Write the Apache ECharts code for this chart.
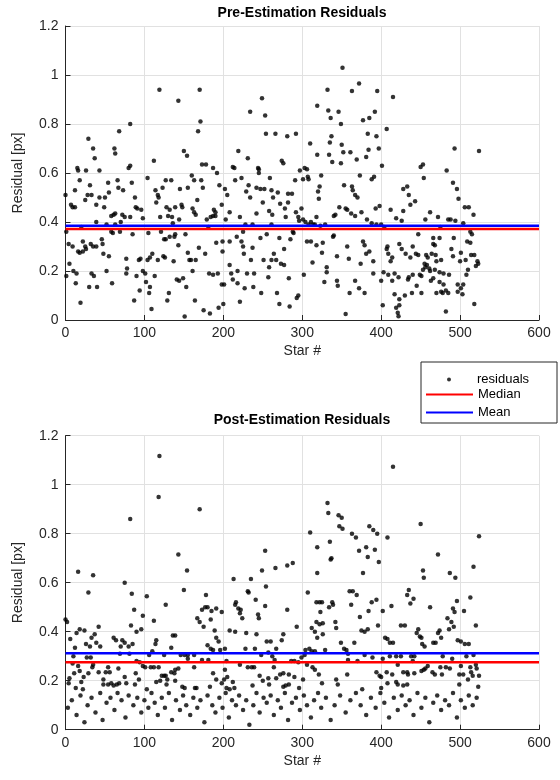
<!DOCTYPE html>
<html>
<head>
    <meta charset="utf-8">
    <title>Residuals</title>
    <script src="https://cdn.jsdelivr.net/npm/echarts@6/dist/echarts.min.js"></script>
    <style>
        body{ margin: 0; background: #fff; }
        #chart{ width: 560px; height: 780px; }
    </style>
</head>
<body>
<div id="chart"></div>
<script>
    // [star #, residual px]
    var preResiduals = [
        [0,0.51],[82,0.80],[68,0.77],[29,0.74],[35,0.70],[37,0.66],[62,0.70],[63,0.68],[15,0.62],[16,0.61],[26,0.61],[43,0.61],[80,0.62],[82,0.63],[18,0.57],[12,0.53],[31,0.55],[54,0.56],[66,0.57],[84,0.56],[67,0.54],[73,0.53],[28,0.51],[33,0.51],[25,0.49],[55,0.52],[50,0.50],[43,0.50],[39,0.47],[7,0.47],[9,0.46],[12,0.46],[49,0.46],[88,0.50],[89,0.46],[91,0.455],[96,0.45],[98,0.415],[58,0.425],[61,0.43],[63,0.435],[72,0.43],[75,0.42],[82,0.42],[70,0.40],[52,0.39],[63,0.39],[20,0.38],[1,0.36],[58,0.36],[60,0.355],[69,0.36],[85,0.35],[4,0.31],[9,0.30],[16,0.28],[18,0.275],[22,0.28],[25,0.30],[26,0.29],[32,0.31],[35,0.30],[39,0.30],[46,0.33],[47,0.31],[48,0.27],[55,0.26],[22,0.32],[5,0.23],[10,0.20],[14,0.19],[1,0.18],[13,0.15],[30,0.135],[40,0.135],[33,0.19],[36,0.18],[52,0.20],[59,0.15],[77,0.25],[77,0.19],[78,0.21],[93,0.245],[95,0.25],[98,0.20],[94,0.12],[87,0.08],[19,0.07],[90,0.18],[39,0.40],
        [119,0.94],[143,0.895],[170,0.94],[171,0.81],[168,0.77],[150,0.69],[154,0.67],[112,0.65],[104,0.58],[173,0.635],[178,0.635],[187,0.62],[192,0.60],[127,0.57],[134,0.57],[160,0.59],[163,0.57],[172,0.57],[174,0.54],[145,0.535],[155,0.54],[114,0.53],[123,0.54],[117,0.51],[118,0.50],[167,0.49],[195,0.55],[202,0.535],[205,0.51],[115,0.48],[147,0.47],[148,0.46],[128,0.46],[132,0.45],[139,0.46],[161,0.455],[163,0.44],[165,0.43],[188,0.45],[190,0.44],[198,0.47],[130,0.425],[135,0.42],[120,0.42],[144,0.41],[179,0.41],[184,0.42],[187,0.425],[190,0.425],[203,0.41],[136,0.395],[181,0.38],[105,0.355],[121,0.36],[125,0.33],[127,0.33],[132,0.34],[138,0.34],[139,0.35],[152,0.35],[143,0.305],[169,0.295],[191,0.315],[199,0.32],[177,0.27],[110,0.27],[107,0.255],[104,0.245],[117,0.245],[124,0.26],[126,0.255],[137,0.24],[155,0.275],[157,0.245],[159,0.245],[165,0.245],[199,0.28],[161,0.20],[182,0.19],[187,0.185],[193,0.19],[101,0.19],[102,0.155],[107,0.135],[106,0.11],[113,0.18],[141,0.165],[144,0.16],[149,0.17],[153,0.135],[198,0.145],[201,0.145],[131,0.11],[129,0.08],[164,0.08],[200,0.065],[194,0.05],[183,0.027],[175,0.04],[151,0.014],[109,0.045],
        [249,0.905],[234,0.85],[253,0.835],[254,0.76],[266,0.76],[281,0.75],[292,0.76],[310,0.72],[219,0.69],[231,0.66],[212,0.625],[214,0.62],[274,0.65],[276,0.64],[244,0.62],[245,0.615],[245,0.60],[215,0.57],[223,0.58],[259,0.58],[297,0.61],[303,0.62],[306,0.615],[307,0.585],[308,0.575],[301,0.575],[291,0.57],[232,0.55],[229,0.525],[234,0.50],[242,0.54],[247,0.535],[252,0.535],[261,0.53],[269,0.52],[263,0.50],[282,0.515],[287,0.515],[272,0.475],[282,0.48],[250,0.48],[278,0.455],[299,0.455],[258,0.445],[262,0.43],[208,0.44],[221,0.42],[242,0.435],[279,0.42],[292,0.44],[295,0.42],[296,0.405],[301,0.41],[304,0.40],[308,0.39],[311,0.40],[314,0.39],[318,0.42],[228,0.39],[237,0.39],[261,0.39],[288,0.36],[289,0.355],[225,0.36],[223,0.32],[225,0.30],[217,0.34],[208,0.32],[247,0.335],[255,0.35],[271,0.335],[285,0.33],[306,0.32],[311,0.32],[237,0.295],[277,0.29],[264,0.27],[226,0.27],[235,0.245],[251,0.245],[261,0.245],[267,0.245],[273,0.23],[277,0.225],[313,0.235],[258,0.215],[208,0.225],[210,0.19],[218,0.20],[230,0.19],[239,0.19],[257,0.175],[283,0.17],[302,0.185],[212,0.165],[218,0.15],[227,0.13],[238,0.135],[248,0.11],[268,0.11],[271,0.065],[284,0.055],[293,0.09],[295,0.10],[221,0.075],
        [351,1.03],[332,0.94],[372,0.965],[363,0.935],[395,0.935],[415,0.91],[319,0.875],[333,0.855],[346,0.85],[336,0.825],[349,0.80],[377,0.815],[385,0.825],[392,0.85],[407,0.78],[383,0.76],[394,0.75],[337,0.75],[335,0.725],[350,0.715],[384,0.695],[397,0.70],[319,0.675],[334,0.675],[352,0.685],[361,0.685],[338,0.645],[349,0.64],[369,0.655],[381,0.665],[401,0.63],[324,0.59],[373,0.59],[391,0.585],[388,0.575],[322,0.545],[320,0.525],[321,0.495],[353,0.55],[363,0.545],[364,0.53],[367,0.51],[370,0.50],[347,0.46],[342,0.43],[340,0.425],[355,0.455],[357,0.45],[362,0.435],[367,0.425],[375,0.44],[393,0.455],[398,0.465],[412,0.45],[419,0.415],[382,0.41],[388,0.395],[394,0.39],[316,0.39],[323,0.385],[329,0.39],[400,0.39],[404,0.38],[340,0.345],[339,0.34],[318,0.305],[326,0.315],[325,0.275],[357,0.30],[359,0.25],[344,0.26],[377,0.32],[379,0.305],[381,0.27],[385,0.28],[390,0.24],[374,0.23],[408,0.30],[407,0.29],[409,0.27],[414,0.255],[412,0.24],[331,0.215],[331,0.195],[328,0.155],[344,0.16],[345,0.14],[367,0.16],[372,0.13],[360,0.11],[379,0.11],[390,0.19],[400,0.16],[403,0.195],[409,0.185],[414,0.16],[417,0.19],[422,0.175],[417,0.105],[419,0.05],[421,0.03],[422,0.015],[402,0.06],[355,0.025],
        [493,0.70],[524,0.69],[450,0.625],[453,0.635],[454,0.58],[483,0.61],[491,0.56],[496,0.535],[498,0.495],[433,0.545],[428,0.535],[435,0.51],[437,0.47],[443,0.485],[428,0.445],[506,0.46],[511,0.46],[517,0.43],[426,0.405],[462,0.44],[456,0.41],[472,0.42],[485,0.41],[488,0.41],[494,0.405],[504,0.395],[475,0.38],[447,0.35],[466,0.335],[474,0.335],[466,0.31],[468,0.305],[492,0.335],[513,0.36],[515,0.35],[509,0.32],[513,0.315],[423,0.31],[426,0.29],[440,0.30],[444,0.27],[447,0.265],[431,0.27],[437,0.255],[464,0.27],[469,0.265],[476,0.245],[470,0.24],[489,0.29],[491,0.26],[501,0.275],[500,0.24],[507,0.245],[514,0.265],[518,0.265],[522,0.24],[520,0.22],[523,0.23],[457,0.265],[459,0.255],[455,0.23],[458,0.225],[461,0.21],[462,0.20],[453,0.205],[456,0.215],[449,0.185],[451,0.18],[440,0.185],[435,0.175],[434,0.165],[468,0.205],[474,0.195],[479,0.19],[486,0.185],[466,0.17],[463,0.16],[510,0.205],[508,0.185],[497,0.145],[501,0.13],[504,0.145],[474,0.155],[479,0.145],[482,0.12],[439,0.11],[430,0.10],[451,0.11],[445,0.14],[470,0.11],[476,0.115],[478,0.11],[485,0.11],[497,0.115],[503,0.105],[423,0.085],[423,0.06],[482,0.035],[518,0.065]
    ];

    var postResiduals = [
        [82,0.86],[16,0.645],[35,0.63],[29,0.56],[75,0.60],[84,0.555],[87,0.49],[98,0.465],[0,0.45],[2,0.44],[83,0.425],[90,0.40],[96,0.41],[42,0.42],[37,0.39],[33,0.375],[18,0.41],[24,0.405],[14,0.395],[6,0.37],[61,0.375],[64,0.365],[72,0.365],[70,0.34],[75,0.355],[80,0.34],[85,0.35],[26,0.35],[31,0.34],[39,0.355],[44,0.34],[12,0.335],[10,0.30],[27,0.295],[32,0.295],[69,0.31],[81,0.31],[90,0.28],[94,0.275],[98,0.26],[9,0.27],[16,0.26],[34,0.255],[54,0.255],[67,0.25],[5,0.21],[11,0.23],[18,0.24],[29,0.23],[35,0.265],[42,0.235],[51,0.235],[56,0.235],[23,0.215],[20,0.195],[4,0.19],[48,0.205],[54,0.185],[58,0.19],[61,0.18],[65,0.185],[68,0.19],[77,0.19],[75,0.215],[89,0.23],[93,0.205],[88,0.185],[48,0.185],[13,0.17],[22,0.165],[103,0.165],
        [119,1.117],[118,0.95],[170,0.90],[143,0.715],[154,0.65],[150,0.57],[103,0.545],[178,0.55],[127,0.51],[112,0.445],[173,0.49],[177,0.50],[180,0.50],[185,0.485],[184,0.45],[191,0.495],[198,0.48],[167,0.455],[170,0.44],[175,0.42],[189,0.405],[191,0.375],[194,0.36],[196,0.325],[202,0.33],[136,0.385],[139,0.385],[115,0.365],[114,0.35],[110,0.32],[106,0.305],[134,0.335],[180,0.345],[184,0.33],[187,0.325],[125,0.305],[146,0.305],[151,0.305],[155,0.305],[163,0.305],[173,0.285],[181,0.285],[204,0.28],[101,0.255],[108,0.255],[112,0.255],[118,0.255],[139,0.245],[143,0.25],[134,0.235],[138,0.23],[127,0.22],[125,0.22],[122,0.22],[155,0.29],[163,0.255],[187,0.23],[202,0.245],[205,0.215],[201,0.205],[115,0.195],[120,0.20],[129,0.205],[139,0.20],[128,0.185],[148,0.175],[151,0.17],[164,0.17],[166,0.17],[183,0.175],[191,0.205],[198,0.19],[204,0.17],
        [310,0.805],[253,0.73],[249,0.65],[266,0.66],[281,0.67],[288,0.68],[213,0.615],[235,0.615],[254,0.585],[231,0.565],[232,0.56],[307,0.56],[241,0.53],[253,0.505],[216,0.52],[215,0.51],[219,0.495],[222,0.49],[224,0.455],[221,0.475],[281,0.49],[244,0.47],[245,0.455],[293,0.42],[208,0.405],[215,0.40],[229,0.395],[242,0.39],[276,0.39],[312,0.415],[255,0.36],[260,0.36],[274,0.365],[228,0.33],[240,0.33],[267,0.33],[304,0.325],[309,0.33],[312,0.32],[248,0.305],[257,0.315],[262,0.30],[265,0.285],[286,0.28],[290,0.28],[295,0.275],[299,0.295],[303,0.305],[221,0.265],[231,0.255],[236,0.255],[239,0.255],[264,0.255],[306,0.265],[313,0.255],[246,0.22],[250,0.20],[257,0.21],[267,0.21],[272,0.225],[276,0.23],[283,0.225],[290,0.215],[212,0.195],[237,0.18],[258,0.185],[276,0.175],[279,0.18],[283,0.185],[301,0.205],[296,0.17],[208,0.165],[214,0.17],
        [415,1.073],[332,0.925],[333,0.885],[346,0.875],[350,0.865],[347,0.83],[351,0.82],[385,0.83],[390,0.815],[395,0.80],[363,0.80],[368,0.785],[408,0.785],[319,0.745],[335,0.767],[372,0.73],[381,0.745],[392,0.735],[383,0.705],[397,0.685],[337,0.70],[336,0.695],[377,0.64],[319,0.64],[360,0.565],[364,0.565],[369,0.55],[318,0.52],[322,0.52],[325,0.52],[338,0.52],[339,0.51],[334,0.50],[362,0.51],[388,0.52],[394,0.53],[384,0.485],[413,0.505],[402,0.485],[323,0.48],[318,0.44],[322,0.43],[326,0.435],[342,0.44],[343,0.415],[373,0.46],[375,0.405],[379,0.40],[383,0.41],[396,0.425],[316,0.40],[319,0.375],[326,0.39],[405,0.375],[408,0.37],[411,0.355],[415,0.355],[349,0.355],[353,0.33],[356,0.325],[358,0.31],[366,0.355],[329,0.325],[316,0.32],[379,0.305],[389,0.295],[402,0.29],[411,0.30],[419,0.30],[358,0.285],[370,0.28],[421,0.265],[316,0.245],[357,0.225],[394,0.235],[400,0.215],[398,0.22],[407,0.235],[414,0.225],[408,0.19],[419,0.195],[421,0.185],[343,0.205],[345,0.185],[376,0.165],[400,0.17],[321,0.225],[325,0.19],
        [450,0.84],[524,0.79],[472,0.715],[517,0.665],[453,0.65],[454,0.62],[487,0.64],[494,0.62],[435,0.57],[433,0.55],[441,0.535],[437,0.515],[513,0.54],[496,0.525],[462,0.50],[491,0.495],[493,0.48],[505,0.485],[484,0.455],[489,0.44],[486,0.41],[492,0.42],[520,0.425],[425,0.425],[430,0.425],[447,0.41],[445,0.395],[449,0.38],[451,0.375],[455,0.34],[452,0.35],[469,0.355],[474,0.405],[472,0.395],[476,0.375],[466,0.355],[497,0.365],[501,0.36],[506,0.35],[511,0.35],[425,0.30],[438,0.30],[442,0.30],[478,0.30],[490,0.29],[508,0.30],[517,0.305],[440,0.28],[459,0.26],[456,0.25],[475,0.255],[482,0.255],[487,0.25],[501,0.26],[513,0.255],[520,0.265],[521,0.25],[428,0.235],[433,0.235],[434,0.225],[442,0.23],[451,0.24],[454,0.245],[465,0.235],[468,0.225],[477,0.225],[499,0.225],[504,0.225],[514,0.235],[516,0.22],[524,0.22],[428,0.18],[433,0.185],[499,0.185],[510,0.205],[523,0.175],
        // low band, rough estimate
        [3,0.09],[8,0.12],[14,0.06],[19,0.14],[24,0.03],[28,0.1],[33,0.13],[38,0.07],[44,0.15],[47,0.04],[52,0.11],[57,0.13],[62,0.08],[66,0.15],[71,0.12],[76,0.05],[80,0.14],[86,0.1],[91,0.13],[96,0.07],[100,0.12],[105,0.09],[109,0.15],[113,0.11],[117,0.06],[122,0.13],[126,0.09],[131,0.15],[135,0.04],[140,0.12],[145,0.08],[149,0.14],[153,0.1],[158,0.06],[162,0.13],[167,0.09],[171,0.12],[176,0.03],[180,0.14],[186,0.1],[190,0.07],[195,0.13],[199,0.09],[203,0.15],[207,0.05],[211,0.12],[216,0.1],[220,0.14],[225,0.08],[229,0.12],[233,0.02],[238,0.1],[242,0.15],[246,0.07],[251,0.13],[255,0.11],[260,0.14],[264,0.06],[269,0.12],[273,0.09],[278,0.15],[282,0.04],[287,0.11],[292,0.13],[297,0.08],[302,0.14],[306,0.1],[311,0.05],[315,0.12],[320,0.15],[324,0.09],[330,0.13],[336,0.04],[341,0.1],[348,0.14],[355,0.07],[361,0.12],[368,0.15],[374,0.1],[381,0.06],[387,0.13],[393,0.09],[399,0.15],[404,0.11],[410,0.05],[416,0.13],[421,0.08],[426,0.14],[431,0.1],[436,0.12],[441,0.06],[446,0.15],[451,0.09],[456,0.13],[461,0.03],[466,0.11],[471,0.14],[476,0.08],[481,0.12],[486,0.1],[491,0.15],[496,0.05],[501,0.12],[506,0.09],[511,0.14],[516,0.1],[521,0.13]
    ];

    var preMedian = 0.371, preMean = 0.385;
    var postMedian = 0.275, postMean = 0.312;
    var xTicks = [0, 600, 100];   // min, max, step
    var yTicks = [0, 1.2, 0.2];

    var FONT = '"Liberation Sans", Arial, Helvetica, sans-serif';
    var INK = '#262626';
    var LINE_ICON = 'path://M0,0L47,0L47,2L0,2Z';

    function makeX(idx) {
        return {
            type: 'value', gridIndex: idx,
            min: xTicks[0], max: xTicks[1], interval: xTicks[2],
            name: 'Star #', nameLocation: 'middle', nameGap: 24,
            nameTextStyle: { color: INK, fontSize: 14, fontFamily: FONT },
            axisLine: { onZero: false, lineStyle: { color: INK, width: 1 } },
            axisTick: { inside: true, length: 5, lineStyle: { color: INK } },
            axisLabel: { color: INK, fontSize: 14, fontFamily: FONT, margin: 6 },
            splitLine: { show: true, lineStyle: { color: '#e1e1e1', width: 1 } }
        };
    }
    function makeY(idx) {
        return {
            type: 'value', gridIndex: idx,
            min: yTicks[0], max: yTicks[1], interval: yTicks[2],
            name: 'Residual [px]', nameLocation: 'middle', nameGap: 40,
            nameTextStyle: { color: INK, fontSize: 14, fontFamily: FONT },
            axisLine: { show: true, onZero: false, lineStyle: { color: INK, width: 1 } },
            axisTick: { show: true, inside: true, length: 5, lineStyle: { color: INK } },
            axisLabel: {
                color: INK, fontSize: 14, fontFamily: FONT, margin: 7,
                formatter: function (v) { return String(+v.toFixed(1)); }
            },
            splitLine: { show: true, lineStyle: { color: '#e1e1e1', width: 1 } }
        };
    }
    function hline(name, v, idx, color) {
        return {
            name: name, type: 'line', xAxisIndex: idx, yAxisIndex: idx,
            data: [[xTicks[0], v], [xTicks[1], v]],
            symbol: 'none', silent: true, z: 3,
            lineStyle: { color: color, width: 2.5 }, itemStyle: { color: color }
        };
    }
    function dots(data, idx) {
        return {
            name: 'residuals', type: 'scatter', xAxisIndex: idx, yAxisIndex: idx,
            data: data, symbolSize: 4.5, itemStyle: { color: '#000' }, z: 2
        };
    }
    var legendText = { color: '#000', fontSize: 13, fontFamily: FONT };

    var chart = echarts.init(document.getElementById('chart'), null, { renderer: 'canvas' });
    chart.setOption({
        animation: false,
        backgroundColor: '#fff',
        title: [
            { text: 'Pre-Estimation Residuals', left: 302, top: 6, textAlign: 'center', padding: 0,
              textStyle: { fontSize: 14, fontWeight: 'bold', color: '#000', fontFamily: FONT } },
            { text: 'Post-Estimation Residuals', left: 302, top: 413, textAlign: 'center', padding: 0,
              textStyle: { fontSize: 14, fontWeight: 'bold', color: '#000', fontFamily: FONT } }
        ],
        grid: [
            { left: 65.5, top: 26, width: 473.5, height: 294 },
            { left: 65.5, top: 435.7, width: 473.5, height: 294 }
        ],
        xAxis: [makeX(0), makeX(1)],
        yAxis: [makeY(0), makeY(1)],
        legend: [
            // dot entry: small icon, text pushed right to line up with the others
            { data: [{ name: 'residuals', icon: 'circle' }], left: 447, top: 373, itemWidth: 4, itemHeight: 4,
              padding: 0, selectedMode: false, z: 10,
              textStyle: { color: '#000', fontSize: 13, fontFamily: FONT, padding: [0, 0, 0, 21] } },
            { data: [{ name: 'Median', icon: LINE_ICON }], left: 426, top: 388, itemWidth: 47, itemHeight: 14,
              padding: 0, selectedMode: false, textStyle: legendText, z: 10 },
            { data: [{ name: 'Mean', icon: LINE_ICON }], left: 426, top: 406, itemWidth: 47, itemHeight: 14,
              padding: 0, selectedMode: false, textStyle: legendText, z: 10 }
        ],
        graphic: [{
            type: 'rect', z: 5,
            shape: { x: 421, y: 362, width: 136, height: 61 },
            style: { fill: '#fff', stroke: INK, lineWidth: 1 }
        }],
        series: [
            dots(preResiduals, 0),
            hline('Median', preMedian, 0, '#ff0000'),
            hline('Mean', preMean, 0, '#0000ff'),
            dots(postResiduals, 1),
            hline('Median', postMedian, 1, '#ff0000'),
            hline('Mean', postMean, 1, '#0000ff')
        ]
    });
</script>
</body>
</html>
